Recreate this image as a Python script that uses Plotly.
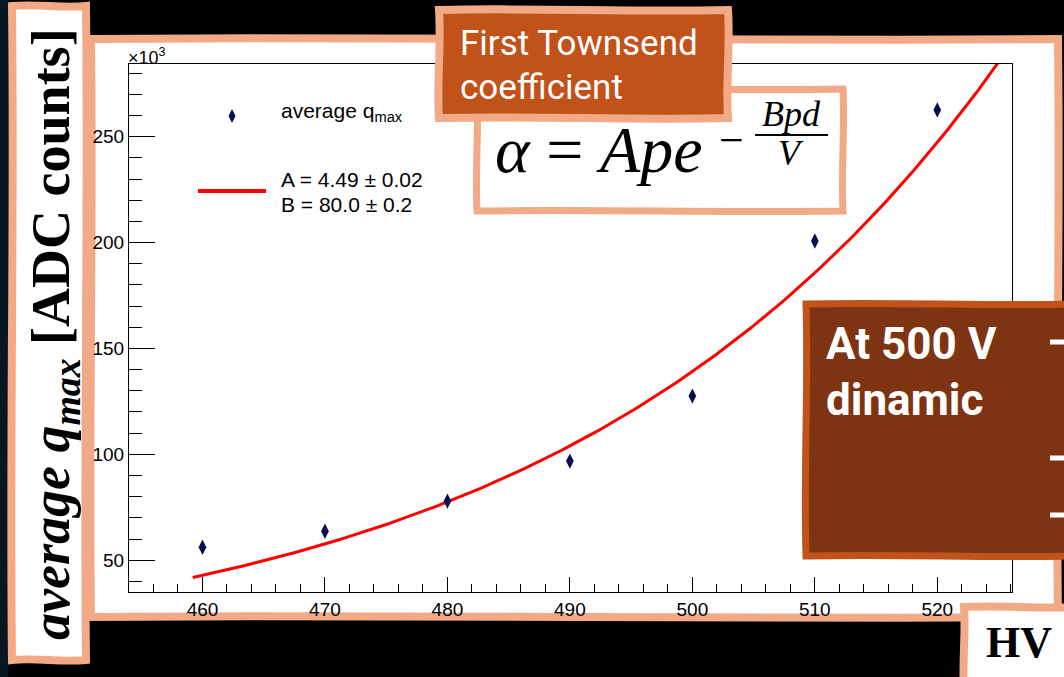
import numpy as np
import plotly.graph_objects as go

W, H = 1064, 677

# ---------------- data ----------------
hv_volts = [460, 470, 480, 490, 500, 510, 520]
avg_qmax_k = [56.1, 63.7, 77.9, 96.8, 127.5, 200.7, 262.6]   # x10^3 ADC counts

x_tick_vals = [460, 470, 480, 490, 500, 510, 520]
y_tick_vals = [50, 100, 150, 200, 250]

# fit: q = N * exp(A * pd * exp(-B * pd / V))
FIT_A = 4.49
FIT_B = 80.0
FIT_PD = 10.0
FIT_NORM_K = 0.01608
fit_v_start, fit_v_end = 459.2, 526.0

legend_point_label = "average q<sub>max</sub>"
legend_fit_lines = ["A = 4.49 ± 0.02", "B = 80.0 ± 0.2"]

# ---------------- styling ----------------
SALMON = "#F2A986"
RUST = "#C0521A"
BROWN = "#7E3412"
NAVY = "#0a0a50"


def px(x):
    return x / W


def py(y):
    return 1 - y / H


def wobbly(x0, y0, x1, y1, a=2.0):
    def p(x, y):
        return f"{px(x):.5f},{py(y):.5f}"
    dx, dy = x1 - x0, y1 - y0
    path = f"M {p(x0, y0)} "
    path += f"C {p(x0 + dx / 3, y0 - a)} {p(x0 + 2 * dx / 3, y0 + a)} {p(x1, y0)} "
    path += f"C {p(x1 + a, y0 + dy / 3)} {p(x1 - a, y0 + 2 * dy / 3)} {p(x1, y1)} "
    path += f"C {p(x1 - dx / 3, y1 + a)} {p(x1 - 2 * dx / 3, y1 - a)} {p(x0, y1)} "
    path += f"C {p(x0 - a, y1 - dy / 3)} {p(x0 + a, y1 - 2 * dy / 3)} {p(x0, y0)} Z"
    return path


shapes = []
# dark strip at far left
shapes.append(dict(type="rect", xref="paper", yref="paper", x0=0, x1=px(8), y0=0, y1=1,
                   fillcolor="#071620", line=dict(width=0), layer="below"))
# main white panel
shapes.append(dict(type="path", xref="paper", yref="paper", path=wobbly(91, 39, 1058, 617, 2.5),
                   fillcolor="white", line=dict(color=SALMON, width=8), layer="below"))
# left label box
shapes.append(dict(type="path", xref="paper", yref="paper", path=wobbly(12, 6, 86, 660, 2.5),
                   fillcolor="white", line=dict(color=SALMON, width=8), layer="below"))
# formula box
shapes.append(dict(type="path", xref="paper", yref="paper", path=wobbly(477, 89, 843, 211, 2),
                   fillcolor="white", line=dict(color=SALMON, width=7), layer="above"))
# fraction bar
shapes.append(dict(type="line", xref="paper", yref="paper", x0=px(755), x1=px(828), y0=py(135), y1=py(135),
                   line=dict(color="black", width=2), layer="above"))
# Townsend box
shapes.append(dict(type="path", xref="paper", yref="paper", path=wobbly(439, 10, 728, 118, 2.5),
                   fillcolor=RUST, line=dict(color=SALMON, width=8), layer="above"))
# At 500 V box
shapes.append(dict(type="path", xref="paper", yref="paper", path=wobbly(806, 304, 1080, 556, 2.5),
                   fillcolor=BROWN, line=dict(color=RUST, width=7), layer="above"))
for yy in [342, 458, 515]:
    shapes.append(dict(type="rect", xref="paper", yref="paper", x0=px(1050), x1=px(1064),
                       y0=py(yy + 2.5), y1=py(yy - 2.5), fillcolor="white", line=dict(width=0), layer="above"))
# HV box
shapes.append(dict(type="path", xref="paper", yref="paper", path=wobbly(964, 607, 1075, 690, 2),
                   fillcolor="white", line=dict(color=SALMON, width=8), layer="above"))
# legend samples
shapes.append(dict(type="path", xref="paper", yref="paper",
                   path=f"M {px(232)},{py(110)} L {px(235)},{py(116)} L {px(232)},{py(122)} L {px(229)},{py(116)} Z",
                   fillcolor=NAVY, line=dict(color=NAVY, width=1), layer="above"))
shapes.append(dict(type="line", xref="paper", yref="paper", x0=px(198), x1=px(266), y0=py(191), y1=py(191),
                   line=dict(color="red", width=4), layer="above"))

ann = []
def text(x, y, s, size, color="black", family="Liberation Sans", xanchor="left", angle=0):
    ann.append(dict(x=px(x), y=py(y), xref="paper", yref="paper", text=s, showarrow=False,
                    xanchor=xanchor, yanchor="middle", textangle=angle,
                    font=dict(size=size, color=color, family=family)))

# ROOT legend & exponent
text(279, 112, legend_point_label, 21)
text(279, 180, legend_fit_lines[0], 21)
text(279, 205, legend_fit_lines[1], 21)
text(126, 56, "×10<sup>3</sup>", 18)

# Townsend box text
text(458, 43, "First Townsend", 35, "white", "Roboto")
text(458, 87, "coefficient", 35, "white", "Roboto")

# formula
text(493, 150, "<i>α</i> = <i>Ape</i>", 66, "black", "Liberation Serif")
text(731, 140, "−", 44, "black", "Liberation Serif", xanchor="center")
text(791, 114, "<i>Bpd</i>", 36, "black", "Liberation Serif", xanchor="center")
text(791, 153, "<i>V</i>", 36, "black", "Liberation Serif", xanchor="center")

# At 500 V
text(824, 344, "<b>At 500 V</b>", 44, "white", "Roboto")
text(824, 400, "<b>dinamic</b>", 44, "white", "Roboto")

# HV
text(984, 642, "<b>HV</b>", 44, "black", "Liberation Serif")

# left rotated label
text(54, 334, "<b><i>average q</i></b><sub><b><i>max</i></b></sub> <b>[ADC counts]</b>", 54,
     "black", "Liberation Serif", xanchor="center", angle=-90)

fit_v = np.linspace(fit_v_start, fit_v_end, 400)
fit_q = FIT_NORM_K * np.exp(FIT_A * FIT_PD * np.exp(-FIT_B * FIT_PD / fit_v))

fig = go.Figure()
fig.add_trace(go.Scatter(x=fit_v, y=fit_q, mode="lines", line=dict(color="red", width=3),
                         hoverinfo="skip"))
fig.add_trace(go.Scatter(x=hv_volts, y=avg_qmax_k, mode="markers",
                         marker=dict(symbol="diamond-tall", size=11, color=NAVY)))

axis_common = dict(showline=True, mirror=True, linecolor="black", linewidth=1,
                   ticks="inside", tickcolor="black", tickwidth=1, showgrid=False, zeroline=False,
                   tickfont=dict(family="Liberation Sans", size=19, color="black"))

fig.update_layout(
    width=W, height=H, margin=dict(l=0, r=0, t=0, b=0),
    paper_bgcolor="black", plot_bgcolor="white", showlegend=False,
    xaxis=dict(domain=[px(129), px(1012)], range=[454.0, 526.1], tickvals=x_tick_vals, ticklen=15,
               minor=dict(ticks="inside", dtick=2, tick0=0, ticklen=8, tickcolor="black", tickwidth=1),
               **axis_common),
    yaxis=dict(domain=[py(592), py(64)], range=[35.0, 284.3], tickvals=y_tick_vals, ticklen=26,
               minor=dict(ticks="inside", dtick=10, tick0=0, ticklen=13, tickcolor="black", tickwidth=1),
               **axis_common),
    shapes=shapes, annotations=ann,
)

fig.write_html("out.html", config={"displayModeBar": False},
               post_script="document.body.style.margin='0';document.body.style.overflow='hidden';"
                           "document.body.style.background='black';")
